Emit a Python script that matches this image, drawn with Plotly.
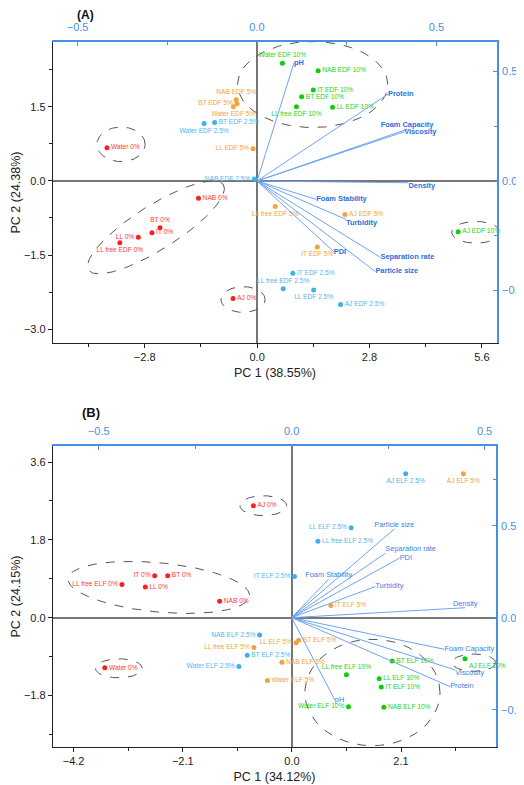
import numpy as np
import plotly.graph_objects as go

# ---------------- Panel A (EDF) : scores ----------------
A0_NAMES = ["Water 0%", "NAB 0%", "BT 0%", "IT 0%", "LL 0%", "LL free EDF 0%", "AJ 0%"]
A0_X = [-3.74, -1.46, -2.42, -2.62, -2.96, -3.42, -0.60]
A0_Y = [0.67, -0.35, -0.95, -1.05, -1.14, -1.25, -2.38]

A25_NAMES = ["Water EDF 2.5%", "BT EDF 2.5%", "NAB EDF 2.5%", "IT EDF 2.5%",
             "LL free EDF 2.5%", "LL EDF 2.5%", "AJ EDF 2.5%"]
A25_X = [-1.32, -1.06, -0.07, 0.89, 0.65, 1.41, 2.08]
A25_Y = [1.16, 1.18, 0.04, -1.87, -2.18, -2.21, -2.50]

A5_NAMES = ["NAB EDF 5%", "BT EDF 5%", "Water EDF 5%", "LL EDF 5%",
            "LL free EDF 5%", "AJ EDF 5%", "IT EDF 5%"]
A5_X = [-0.52, -0.50, -0.59, -0.10, 0.45, 2.19, 1.50]
A5_Y = [1.64, 1.56, 1.50, 0.65, -0.52, -0.68, -1.34]

A10_NAMES = ["Water EDF 10%", "NAB EDF 10%", "IT EDF 10%", "BT EDF 10%",
             "LL free EDF 10%", "LL EDF 10%", "AJ EDF 10%"]
A10_X = [0.63, 1.52, 1.40, 1.11, 0.98, 1.88, 5.01]
A10_Y = [2.38, 2.23, 1.84, 1.70, 1.50, 1.49, -1.03]

# Panel A loadings
A_VARS = ["pH", "Protein", "Foam Capacity", "Viscosity", "Density", "Foam Stability",
          "Turbidity", "PDI", "Separation rate", "Particle size"]
A_LOAD1 = [0.103, 0.365, 0.418, 0.410, 0.422, 0.165, 0.248, 0.214, 0.344, 0.330]
A_LOAD2 = [0.540, 0.397, 0.236, 0.225, -0.008, -0.084, -0.175, -0.323, -0.349, -0.414]

# ---------------- Panel B (ELF) : scores ----------------
B0_NAMES = ["AJ 0%", "IT 0%", "BT 0%", "LL free ELF 0%", "LL 0%", "NAB 0%", "Water 0%"]
B0_X = [-0.74, -2.64, -2.39, -3.27, -2.82, -1.39, -3.60]
B0_Y = [2.59, 0.97, 0.97, 0.77, 0.71, 0.38, -1.16]

B25_NAMES = ["AJ ELF 2.5%", "LL ELF 2.5%", "LL free ELF 2.5%", "IT ELF 2.5%",
             "NAB ELF 2.5%", "BT ELF 2.5%", "Water ELF 2.5%"]
B25_X = [2.19, 1.14, 0.50, 0.05, -0.62, -0.86, -1.02]
B25_Y = [3.33, 2.08, 1.77, 0.95, -0.40, -0.87, -1.13]

B5_NAMES = ["AJ ELF 5%", "IT ELF 5%", "BT ELF 5%", "LL ELF 5%",
            "LL free ELF 5%", "NAB ELF 5%", "Water ELF 5%"]
B5_X = [3.30, 0.75, 0.13, 0.08, -0.73, -0.19, -0.47]
B5_Y = [3.33, 0.28, -0.52, -0.58, -0.69, -1.03, -1.45]

B10_NAMES = ["BT ELF 10%", "AJ ELF 10%", "LL free ELF 10%", "LL ELF 10%",
             "IT ELF 10%", "Water ELF 10%", "NAB ELF 10%"]
B10_X = [1.93, 3.33, 1.05, 1.68, 1.72, 1.09, 1.77]
B10_Y = [-1.00, -0.95, -1.32, -1.41, -1.60, -2.06, -2.07]

# Panel B loadings
B_VARS = ["Particle size", "Separation rate", "PDI", "Foam Stability", "Turbidity",
          "Density", "Foam Capacity", "Viscosity", "Protein", "pH"]
B_LOAD1 = [0.266, 0.243, 0.280, 0.096, 0.217, 0.450, 0.396, 0.424, 0.411, 0.112]
B_LOAD2 = [0.482, 0.350, 0.324, 0.209, 0.169, 0.054, -0.172, -0.284, -0.375, -0.447]

# group ellipses: centre x, centre y, semi-axis vector 1, semi-axis vector 2
A_ELLIPSES = [
    (1.385, 1.95, (1.87, 0.0), (0.0, 0.87)),
    (-3.39, 0.74, (0.60, 0.0), (0.0, 0.35)),
    (-2.52, -0.94, (1.68, 0.86), (0.29, -0.38)),
    (-0.35, -2.40, (0.55, 0.0), (0.0, 0.26)),
    (5.45, -1.04, (0.60, 0.0), (0.0, 0.22)),
]
B_ELLIPSES = [
    (-0.55, 2.59, (0.45, 0.0), (0.0, 0.23)),
    (-2.56, 0.70, (1.747, -0.174), (-0.039, 0.576)),
    (-3.33, -1.17, (0.45, 0.0), (0.0, 0.22)),
    (1.55, -1.73, (1.30, 0.0), (0.0, 1.23)),
    (3.50, -1.04, (0.42, 0.0), (0.0, 0.20)),
]

# label placement (text position relative to the point)
LABEL_POS = {
    "A0": ["middle right", "middle right", "top center", "middle right", "middle left",
           "bottom center", "middle right"],
    "A25": ["bottom center", "middle right", "middle left", "middle right", "top center",
            "bottom center", "middle right"],
    "A5": ["top center", "middle left", "bottom center", "middle left", "bottom center",
           "middle right", "bottom center"],
    "A10": ["top center", "middle right", "middle right", "middle right", "bottom center",
            "middle right", "middle right"],
    "B0": ["middle right", "middle left", "middle right", "middle left", "middle right",
           "middle right", "middle right"],
    "B25": ["bottom center", "middle left", "middle right", "middle left", "middle left",
            "middle right", "middle left"],
    "B5": ["bottom center", "middle right", "middle right", "middle left", "middle left",
           "middle right", "middle right"],
    "B10": ["middle right", "bottom right", "top center", "middle right", "middle right",
            "middle left", "middle right"],
    "AV": ["middle right", "middle right", "top center", "middle right", "bottom right",
           "middle right", "bottom right", "middle right", "middle right", "middle right"],
    "BV": ["top center", "top right", "middle right", "top center", "middle right",
           "top center", "middle right", "bottom right", "middle right", "middle right"],
}

RED, BLUE, ORANGE, GREEN = "#ff1f1f", "#3fb0ec", "#f5a23a", "#12cc12"
TXT = {RED: "#ff3838", BLUE: "#4fb6ee", ORANGE: "#f2a43a", GREEN: "#22d422"}
AXBLUE = "#4a8fe6"
VEC = "#6ea4f2"
FONT = "Liberation Sans, Arial, sans-serif"

# the page body has an 8px margin, so the figure is laid out 8px smaller
W, H, OFF = 516, 777, 8


def px_x(p):
    return (p - OFF) / W


def px_y(p):
    return 1 - (p - OFF) / H


fig = go.Figure()


def add_scores(names, xs, ys, color, pos, xa, ya):
    fig.add_trace(go.Scatter(
        x=xs, y=ys, mode="markers+text", text=names, textposition=pos,
        marker=dict(color=color, size=5),
        textfont=dict(color=TXT[color], size=6.6, family=FONT),
        xaxis=xa, yaxis=ya, hoverinfo="text", cliponaxis=False,
    ))


def add_loadings(names, u, v, pos, xa, ya, bold):
    lx, ly = [], []
    for a, b in zip(u, v):
        lx += [0, a, None]
        ly += [0, b, None]
    fig.add_trace(go.Scatter(x=lx, y=ly, mode="lines", line=dict(color=VEC, width=1),
                             xaxis=xa, yaxis=ya, hoverinfo="skip"))
    labels = [f"<b>{n}</b>" for n in names] if bold else names
    fig.add_trace(go.Scatter(
        x=u, y=v, mode="text", text=labels, textposition=pos,
        textfont=dict(color="#2a6fdc" if bold else "#3b7fe3", size=7.4, family=FONT),
        xaxis=xa, yaxis=ya, hoverinfo="text", cliponaxis=False,
    ))


def add_ellipses(ells, xa, ya):
    t = np.linspace(0, 2 * np.pi, 121)
    for cx, cy, e1, e2 in ells:
        ex = cx + e1[0] * np.cos(t) + e2[0] * np.sin(t)
        ey = cy + e1[1] * np.cos(t) + e2[1] * np.sin(t)
        fig.add_trace(go.Scatter(x=ex, y=ey, mode="lines",
                                 line=dict(color="#555555", width=1, dash="dash"),
                                 xaxis=xa, yaxis=ya, hoverinfo="skip"))


# panel A
add_ellipses(A_ELLIPSES, "x", "y")
add_loadings(A_VARS, A_LOAD1, A_LOAD2, LABEL_POS["AV"], "x2", "y2", True)
add_scores(A0_NAMES, A0_X, A0_Y, RED, LABEL_POS["A0"], "x", "y")
add_scores(A25_NAMES, A25_X, A25_Y, BLUE, LABEL_POS["A25"], "x", "y")
add_scores(A5_NAMES, A5_X, A5_Y, ORANGE, LABEL_POS["A5"], "x", "y")
add_scores(A10_NAMES, A10_X, A10_Y, GREEN, LABEL_POS["A10"], "x", "y")

# panel B
add_ellipses(B_ELLIPSES, "x3", "y3")
add_loadings(B_VARS, B_LOAD1, B_LOAD2, LABEL_POS["BV"], "x4", "y4", False)
add_scores(B0_NAMES, B0_X, B0_Y, RED, LABEL_POS["B0"], "x3", "y3")
add_scores(B25_NAMES, B25_X, B25_Y, BLUE, LABEL_POS["B25"], "x3", "y3")
add_scores(B5_NAMES, B5_X, B5_Y, ORANGE, LABEL_POS["B5"], "x3", "y3")
add_scores(B10_NAMES, B10_X, B10_Y, GREEN, LABEL_POS["B10"], "x3", "y3")


def score_axis(domain, rng, ticks, minor, title, anchor, is_x):
    return dict(domain=domain, range=rng, tickvals=ticks, tickformat=".1f",
                ticks="outside", ticklen=4, tickcolor="#222", showline=True,
                linecolor="#222", linewidth=1, showgrid=False, zeroline=True,
                zerolinecolor="#767676", zerolinewidth=2, anchor=anchor,
                tickfont=dict(size=11, color="#222", family=FONT),
                minor=dict(tickvals=minor, ticks="outside", ticklen=3, tickcolor="#222"),
                title=dict(text=title, font=dict(size=12.5, color="#222", family=FONT),
                           standoff=6 if is_x else 0))


def load_axis(rng, ticks, minor, overlay, side, anchor):
    return dict(range=rng, tickvals=ticks, tickformat=".1f", overlaying=overlay,
                side=side, anchor=anchor, ticks="inside", ticklen=4, tickcolor=AXBLUE,
                showline=True, linecolor=AXBLUE, linewidth=1.5, showgrid=False,
                zeroline=False, tickfont=dict(size=11, color=AXBLUE, family=FONT),
                ticklabelstandoff=5 if side == "top" else 1,
                minor=dict(tickvals=minor, ticks="inside", ticklen=3, tickcolor=AXBLUE))


fig.update_layout(
    width=W, height=H, margin=dict(l=0, r=0, t=0, b=0),
    paper_bgcolor="white", plot_bgcolor="white", showlegend=False,
    font=dict(family=FONT),
    xaxis=score_axis([px_x(53), px_x(499)], [-5.09, 5.98], [-2.8, 0, 2.8, 5.6],
                     [-4.2, -1.4, 1.4, 4.2], "PC 1 (38.55%)", "y", True),
    yaxis=score_axis([px_y(343), px_y(42)], [-3.28, 2.81], [-3.0, -1.5, 0, 1.5],
                     [-2.25, -0.75, 0.75, 2.25], "PC 2 (24.38%)", "x", False),
    xaxis2=load_axis([-0.569, 0.669], [-0.5, 0, 0.5], [-0.25, 0.25], "x", "top", "y"),
    yaxis2=load_axis([-0.74, 0.635], [-0.5, 0, 0.5], [-0.25, 0.25], "y", "right", "x"),
    xaxis3=score_axis([px_x(53), px_x(498)], [-4.6, 3.93], [-4.2, -2.1, 0, 2.1],
                      [-3.15, -1.05, 1.05, 3.15], "PC 1 (34.12%)", "y3", True),
    yaxis3=score_axis([px_y(747), px_y(446)], [-2.99, 3.97], [-1.8, 0, 1.8, 3.6],
                      [-2.7, -0.9, 0.9, 2.7], "PC 2 (24.15%)", "x3", False),
    xaxis4=load_axis([-0.619, 0.530], [-0.5, 0, 0.5], [-0.25, 0.25], "x3", "top", "y3"),
    yaxis4=load_axis([-0.703, 0.933], [-0.5, 0, 0.5], [-0.25, 0.75], "y3", "right", "x3"),
    annotations=[
        dict(text="<b>(A)</b>", x=px_x(75), y=1, xref="paper", yref="paper",
             yanchor="top", yshift=2, showarrow=False,
             font=dict(size=12, color="#111", family=FONT)),
        dict(text="<b>(B)</b>", x=px_x(80), y=px_y(413), xref="paper", yref="paper",
             showarrow=False, font=dict(size=13, color="#111", family=FONT)),
    ],
)

fig.write_html("out.html")
